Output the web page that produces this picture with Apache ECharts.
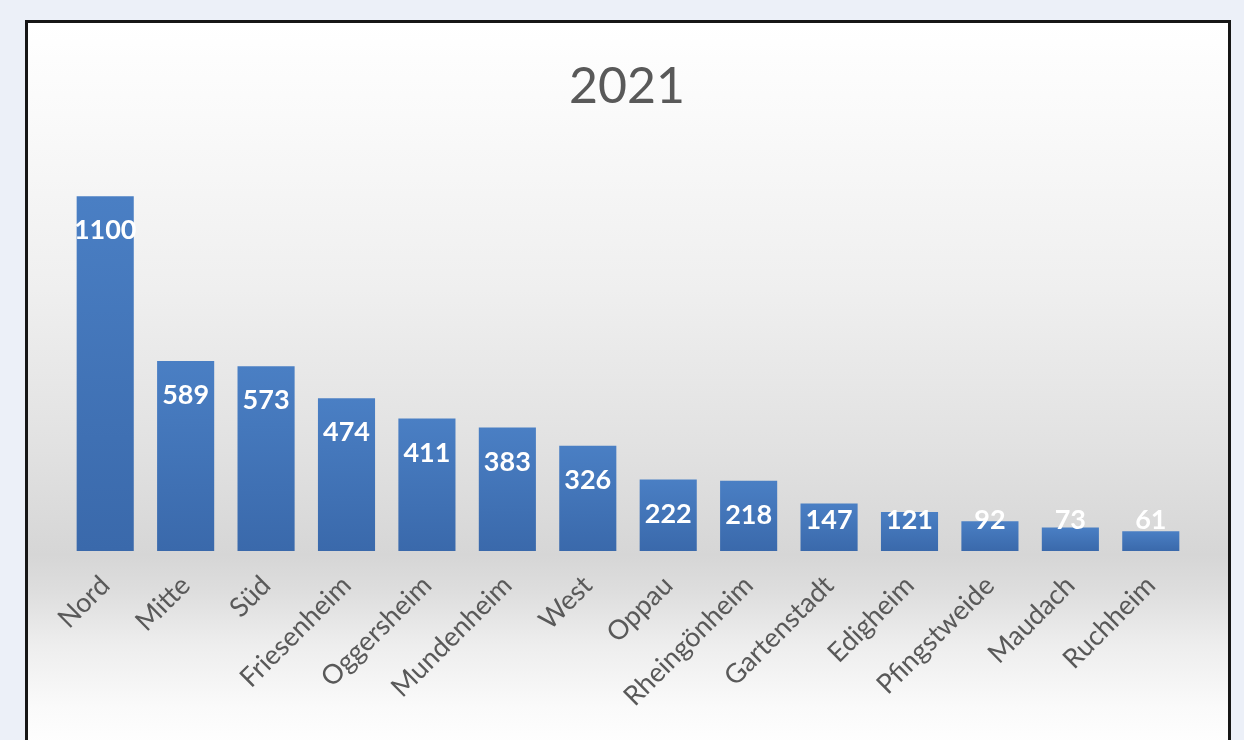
<!DOCTYPE html>
<html>
<head>
<meta charset="utf-8">
<script src="https://cdn.jsdelivr.net/npm/echarts@6/dist/echarts.min.js"></script>
<style>
  html, body { margin:0; padding:0; width:1244px; height:740px; overflow:hidden; background:#ecf0f8; }
  #box { position:absolute; left:25px; top:20px; width:1200px; height:760px; border:3px solid #161616;
    background: linear-gradient(to bottom, #ffffff 0%, #fafafa 12%, #efefef 35%, #e2e2e2 55%, #d6d6d6 70%, #dedede 75%, #eeeeee 82%, #fafafa 90%, #ffffff 96%); }
  #chart { position:absolute; left:0; top:0; width:1244px; height:740px; }
</style>
</head>
<body>
<div id="box"></div>
<div id="chart"></div>
<script>
const TITLE = '2021';
const categories = ['Nord','Mitte','Süd','Friesenheim','Oggersheim','Mundenheim','West','Oppau','Rheingönheim','Gartenstadt','Edigheim','Pfingstweide','Maudach','Ruchheim'];
const values = [1100, 589, 573, 474, 411, 383, 326, 222, 218, 147, 121, 92, 73, 61];

const chart = echarts.init(document.getElementById('chart'), null, {renderer:'canvas'});
const seriesData = values.map(v => v < 210
  ? { value: v, label: { position: 'insideBottom', distance: 17 } }
  : { value: v });

chart.setOption({
  animation: false,
  backgroundColor: 'transparent',
  graphic: [{
    type: 'text', x: 627, y: 87,
    style: { text: TITLE, textAlign: 'center', textVerticalAlign: 'middle',
      font: '50px Lato', fill: '#595959' }
  }],
  grid: { left: 65, right: 53, top: 164, bottom: 189, containLabel: false },
  xAxis: {
    type: 'category', data: categories,
    axisLine: { show: false }, axisTick: { show: false },
    axisLabel: { rotate: 45, margin: 30, color: '#595959', fontFamily: 'Lato', fontSize: 27, interval: 0 }
  },
  yAxis: { type: 'value', min: 0, max: 1200, show: false, splitLine: { show: false } },
  series: [{
    type: 'bar', data: seriesData, barWidth: '71%',
    itemStyle: {
      color: new echarts.graphic.LinearGradient(0, 0, 0, 1, [
        { offset: 0, color: '#4a7fc4' }, { offset: 1, color: '#3a69ab' }
      ])
    },
    label: { show: true, position: 'insideTop', distance: 21, color: '#ffffff',
      fontFamily: 'Lato', fontWeight: 'bold', fontSize: 27 }
  }]
});
</script>
</body>
</html>
